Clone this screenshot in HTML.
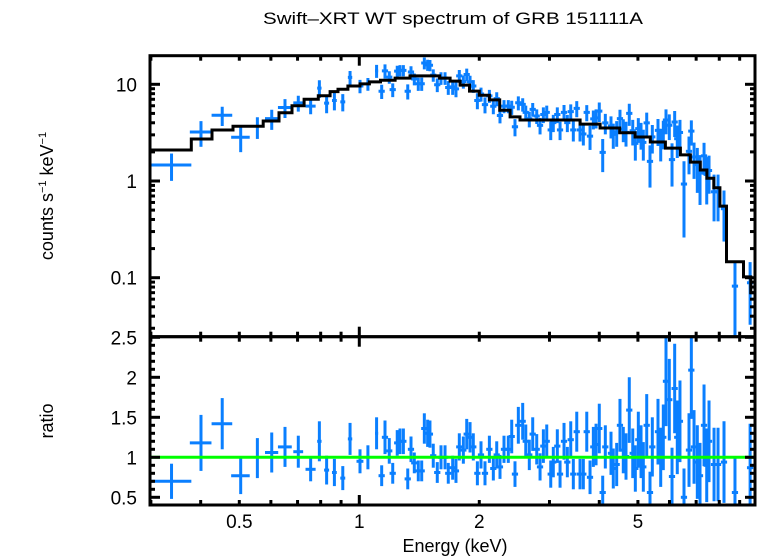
<!DOCTYPE html>
<html><head><meta charset="utf-8"><style>
html,body{margin:0;padding:0;background:#fff;}
svg{display:block;font-family:"Liberation Sans",Arial,sans-serif;}
</style></head><body>
<svg id="chart" width="758" height="556" viewBox="0 0 758 556">
<text x="453" y="24" font-size="17" text-anchor="middle" textLength="380" lengthAdjust="spacingAndGlyphs">Swift–XRT WT spectrum of GRB 151111A</text>
<text transform="translate(53,196) rotate(-90)" font-size="18" text-anchor="middle">counts s<tspan font-size="11" dy="-7">−1</tspan><tspan dy="7"> keV</tspan><tspan font-size="11" dy="-7">−1</tspan></text>
<text transform="translate(53,421) rotate(-90)" font-size="18" text-anchor="middle">ratio</text>
<text x="455" y="552" font-size="18" text-anchor="middle">Energy (keV)</text>
<g id="marks"></g>
<g id="axes"></g>
</svg>
<script>
// Model step function (folded model), bin edges in keV and values in counts/s/keV
const modelEdges = [0.298,0.379,0.427,0.482,0.574,0.629,0.678,0.727,0.789,0.845,0.884,0.936,1.004,1.06,1.13,1.23,1.34,1.59,1.69,1.79,1.89,2.0,2.12,2.25,2.39,2.53,3.58,4.02,4.5,4.92,5.37,5.86,6.39,6.77,7.17,7.45,7.75,8.03,8.34,9.2,9.6,9.9];
const modelVals = [2.09,2.72,3.37,3.68,4.17,5.09,6.0,7.0,7.6,8.4,8.9,9.6,10.1,10.6,11.0,11.6,12.2,11.6,10.8,9.8,8.5,7.7,6.9,5.4,4.6,4.27,3.88,3.53,3.15,2.85,2.53,2.19,1.86,1.57,1.30,1.07,0.85,0.55,0.146,0.102,0.07];
// Data points: energy (keV), half-width (keV, 0 = default narrow bin), ratio, ratio error
const energies = [0.338,0.4007,0.453,0.504,0.555,0.603,0.651,0.703,0.755,0.794,0.828,0.866,0.909,0.948,1.004,1.051,1.105,
1.138,1.160,1.189,1.213,1.245,1.265,1.290,1.323,1.348,1.374,1.406,1.434,1.456,1.484,1.504,1.533,1.569,1.603,1.641,1.672,
1.715,1.748,1.782,1.824,1.860,1.896,1.932,1.978,2.020,2.067,2.120,2.169,2.212,2.254,2.307,2.365,2.412,2.458,2.506,2.570,
2.616,2.670,2.723,2.787,2.841,2.896,2.953,3.022,3.067,3.139,3.189,3.263,3.326,3.392,3.443,3.512,3.579,3.648,3.721,3.792,
3.865,3.926,4.000,4.080,4.142,4.280,4.337,4.423,4.508,4.595,4.668,4.757,4.853,4.926,5.012,5.091,5.159,5.261,5.362,5.434,
5.615,5.704,5.790,5.881,5.994,6.089,6.183,6.277,6.375,6.525,6.717,6.808,6.915,7.047,7.158,7.326,7.441,7.540,7.762,7.943,8.222,
8.76,9.56];
const halfWidths = [0.041,0.025,0.027,0.027,0.004,0.023,0.026,0.02,0.022,0.01,0.012,0.012,0.013,0.012,0.02,0.01,0.01,
0,0,0,0,0,0,0,0,0,0,0,0,0,0,0,0,0,0,0,0,0,0,0,0,0,0,0,0,0,0,0,0,0,0,0,0,0,0,0,0,0,0,0,0,0,0,0,0,0,0,0,0,0,0,0,0,0,0,0,0,
0,0,0,0,0,0,0,0,0,0,0,0,0,0,0,0,0,0,0,0,0,0,0,0,0,0,0,0,0,0,0,0,0,0,0,0,0,0,0,0,0,0,0,
0.6,0.33];
const ratios = [0.7,1.18,1.42,0.77,0.99,1.06,1.13,1.07,0.85,1.2,0.84,0.81,0.74,1.23,0.95,1.0,1.3,
0.77,1.25,1.08,0.80,1.18,1.2,1.2,0.73,1.1,0.93,0.83,0.83,1.36,1.3,1.29,1.02,0.81,1.0,1.0,0.8,
0.87,0.83,1.13,1.09,1.29,1.25,1.13,0.8,1.03,0.8,1.1,0.86,1.03,0.88,1.1,1.1,1.26,0.79,1.4,1.45,
1.2,1.03,1.29,1.1,0.88,1.14,1.2,0.79,0.94,1.14,0.79,1.2,0.94,1.22,0.79,1.32,0.79,0.79,1.32,0.75,
1.13,1.16,1.36,0.56,1.13,1.05,0.86,0.91,1.4,1.09,1.01,1.59,1.05,0.86,1.22,1.07,0.88,1.4,0.56,1.13,
1.32,1.0,1.25,1.95,1.72,0.76,1.86,1.25,1.45,0.5,1.09,2.09,1.13,0.94,0.77,1.4,0.9,1.2,0.91,0.91,0.94,
0.56,0.87];
const ratioErrs = [0.22,0.35,0.32,0.23,0.25,0.25,0.25,0.2,0.15,0.25,0.18,0.17,0.15,0.2,0.15,0.15,0.2,
0.13,0.21,0.16,0.13,0.16,0.16,0.16,0.13,0.16,0.13,0.13,0.13,0.19,0.17,0.17,0.15,0.13,0.15,0.15,0.13,
0.15,0.15,0.17,0.17,0.19,0.19,0.17,0.15,0.17,0.15,0.17,0.15,0.17,0.15,0.17,0.17,0.21,0.16,0.23,0.23,
0.21,0.19,0.21,0.19,0.17,0.21,0.21,0.17,0.19,0.21,0.17,0.23,0.19,0.23,0.19,0.25,0.19,0.19,0.25,0.21,
0.25,0.26,0.31,0.21,0.27,0.27,0.25,0.27,0.33,0.29,0.29,0.41,0.31,0.29,0.35,0.33,0.31,0.39,0.26,0.37,
0.41,0.37,0.41,0.56,0.51,0.36,0.56,0.46,0.51,0.36,0.46,0.61,0.46,0.46,0.41,0.51,0.46,0.51,0.46,0.46,0.51,
0.45,0.55];
const xTickLabels = ["0.5","1","2","5"];
const xTickValues = [0.5,1,2,5];
const yTopTickLabels = ["0.1","1","10"];
const yTopTickValues = [0.1,1,10];
const yBotTickLabels = ["0.5","1","1.5","2","2.5"];
const yBotTickValues = [0.5,1,1.5,2,2.5];

const L=150,R=755,T1=55.7,B1=336.7,T2=336.7,B2=505;
const X0=1, XPX=359.3, XDEC=398.6;
function xs(e){return XPX+XDEC*Math.log10(e/X0);}
function yTop(v){return 181-96.7*Math.log10(v);}
function yBot(r){return 457.3-80*(r-1);}
function modelAt(e){for(let i=0;i<modelVals.length;i++){if(e<modelEdges[i+1])return modelVals[i];}return modelVals[modelVals.length-1];}

const NS="http://www.w3.org/2000/svg";
const svg=document.getElementById('chart');
const marks=document.getElementById('marks');
const axes=document.getElementById('axes');
function mk(tag,attrs,parent){const el=document.createElementNS(NS,tag);for(const k in attrs)el.setAttribute(k,attrs[k]);parent.appendChild(el);return el;}

const defs=mk('defs',{},svg);
const c1=mk('clipPath',{id:'clipTop'},defs);mk('rect',{x:L,y:T1,width:R-L,height:B1-T1},c1);
const c2=mk('clipPath',{id:'clipBot'},defs);mk('rect',{x:L,y:T2,width:R-L,height:B2-T2},c2);
const gTop=mk('g',{'clip-path':'url(#clipTop)'},marks);


const gBot=mk('g',{'clip-path':'url(#clipBot)'},marks);



const BLUE='#0a7fff';
for(let i=0;i<energies.length;i++){
  const e=energies[i];
  const hw=halfWidths[i]>0?halfWidths[i]:e*0.018;
  const m=modelAt(e);
  const c=m*ratios[i], ce=m*ratioErrs[i];
  const x=xs(e), x1=xs(e-hw), x2=xs(e+hw);
  const gp=mk('g',{stroke:BLUE,'stroke-width':3},gTop);
  
  
  mk('line',{x1:x1,x2:x2,y1:yTop(c),y2:yTop(c)},gp);
  const lo=Math.max(c-ce,1e-3);
  mk('line',{x1:x,x2:x,y1:yTop(c+ce),y2:yTop(lo)},gp);
  const gr=mk('g',{stroke:BLUE,'stroke-width':3},gBot);
  
  
  mk('line',{x1:x1,x2:x2,y1:yBot(ratios[i]),y2:yBot(ratios[i])},gr);
  mk('line',{x1:x,x2:x,y1:yBot(ratios[i]+ratioErrs[i]),y2:yBot(ratios[i]-ratioErrs[i])},gr);
}
let d='';
for(let i=0;i<modelVals.length;i++){
  const xa=xs(modelEdges[i]), xb=xs(modelEdges[i+1]), y=yTop(modelVals[i]);
  d+=(i===0?'M':'L')+xa.toFixed(1)+','+y.toFixed(1)+'L'+xb.toFixed(1)+','+y.toFixed(1);
}
const mp=mk('path',{d:d,fill:'none',stroke:'#000','stroke-width':3},gTop);


const ul=mk('line',{x1:L,x2:R,y1:yBot(1),y2:yBot(1),stroke:'#00ff00','stroke-width':3},gBot);



const f1=mk('rect',{x:L,y:T1,width:R-L,height:B1-T1,fill:'none',stroke:'#000','stroke-width':3},axes);


const f2=mk('rect',{x:L,y:T2,width:R-L,height:B2-T2,fill:'none',stroke:'#000','stroke-width':3},axes);



function tick(x1,y1,x2,y2){mk('line',{x1:x1,y1:y1,x2:x2,y2:y2,stroke:'#000','stroke-width':3},axes);}
for(let dec=-1;dec<=0;dec++){for(let k=1;k<=9;k++){
  const v=k*Math.pow(10,dec); if(v<0.3||v>9.9)continue;
  const x=xs(v); const len=(k===1)?10:5;
  tick(x,T1,x,T1+len);tick(x,B1-len,x,B1+len);tick(x,B2,x,B2-len);
}}
for(let i=0;i<xTickLabels.length;i++){
  const t=mk('text',{x:xs(xTickValues[i]),y:528,'font-size':19,'text-anchor':'middle'},axes);
  t.textContent=xTickLabels[i];
  
  
}
for(let dec=-2;dec<=1;dec++){for(let k=1;k<=9;k++){
  const v=k*Math.pow(10,dec); const y=yTop(v); if(y<T1||y>B1)continue;
  const len=(k===1)?10:5;
  tick(L,y,L+len,y);tick(R,y,R-len,y);
}}
for(let i=0;i<yTopTickLabels.length;i++){
  const t=mk('text',{x:137,y:yTop(yTopTickValues[i])+7,'font-size':19,'text-anchor':'end'},axes);
  t.textContent=yTopTickLabels[i];
  
  
}
for(let r=0.5;r<=2.501;r+=0.1){
  const y=yBot(r); const major=Math.abs(r*2-Math.round(r*2))<0.01; const len=major?10:5;
  tick(L,y,L+len,y);tick(R,y,R-len,y);
}
for(let i=0;i<yBotTickLabels.length;i++){
  const t=mk('text',{x:137,y:yBot(yBotTickValues[i])+7,'font-size':19,'text-anchor':'end'},axes);
  t.textContent=yBotTickLabels[i];
  
  
}
</script>
</body></html>
